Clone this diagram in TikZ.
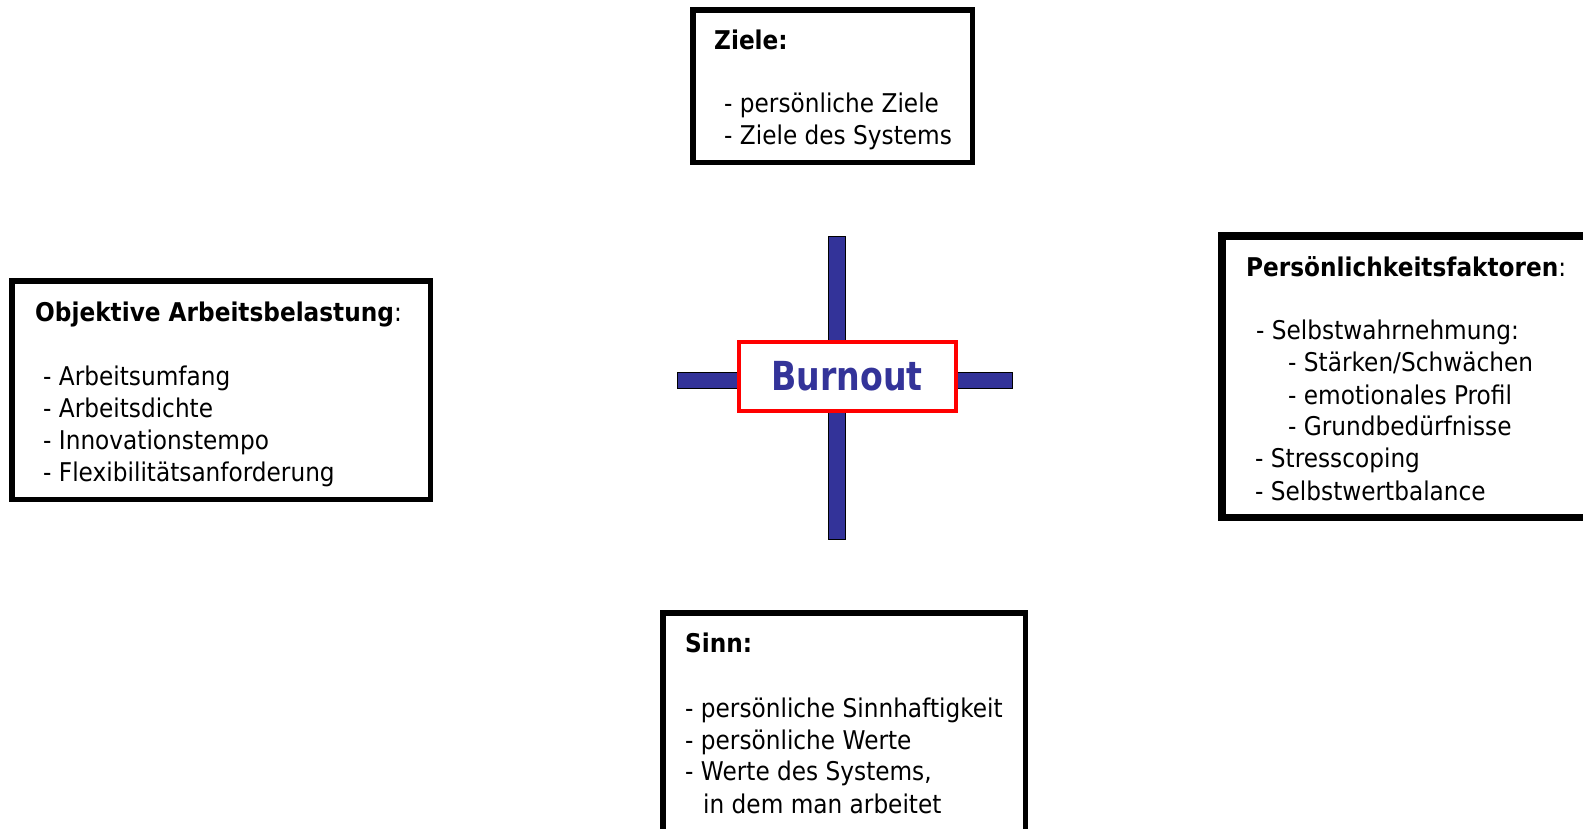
\documentclass[tikz,border=0pt]{standalone}
\usepackage{fontspec}
\setmainfont{DejaVu Sans}[FakeStretch=0.9]
\newfontfamily\burnfont{DejaVu Sans}[FakeStretch=0.83]
\definecolor{navy}{HTML}{333399}
\definecolor{burnred}{HTML}{FF0000}
\begin{document}
\begin{tikzpicture}[x=1pt,y=-1pt,
  frame/.style={draw=black,line width=5.5pt,fill=white,inner sep=0pt,outer sep=0pt},
  bar/.style={draw=black,line width=1pt,fill=navy},
  txt/.style={anchor=base west,inner sep=0pt,font=\fontsize{25.8}{32}\selectfont},
  head/.style={txt,font=\fontsize{25.8}{32}\selectfont\bfseries}]
\useasboundingbox (0,0) rectangle (1583,828);
% boxes
\node[frame,minimum width=279.5,minimum height=152.5] (zielebox) at (832.5,86) {};
\node[frame,minimum width=418.5,minimum height=218.5] (objbox) at (221,390) {};
\node[frame,line width=7.5pt,minimum width=380,minimum height=281.5] (persbox) at (1412,376.5) {};
\node[frame,minimum width=362.5,minimum height=287] (sinnbox) at (844,756.4) {};
% cross
\path (828,236) coordinate (vt) (845,539) coordinate (vb);
\path (677,372) coordinate (hl) (1012,388) coordinate (hr);
\draw[bar] (vt) rectangle (vb);
\draw[bar] (hl) rectangle (hr);
\node[draw=burnred,line width=4pt,fill=white,minimum width=217,minimum height=69,inner sep=0pt,
  text=navy,font=\fontsize{40}{48}\selectfont\burnfont\bfseries] (burnout) at (847,376) {Burnout};
% Ziele
\node[head] (z0) at (714,49) {Ziele:};
\node[txt] (z1) at (724,112) {- persönliche Ziele};
\node[txt] (z2) at (724,144) {- Ziele des Systems};
% Objektive Arbeitsbelastung
\node[txt] (o0) at (35,321) {\textbf{Objektive Arbeitsbelastung}:};
\node[txt] (o1) at (43,385) {- Arbeitsumfang};
\node[txt] (o2) at (43,417) {- Arbeitsdichte};
\node[txt] (o3) at (43,449) {- Innovationstempo};
\node[txt] (o4) at (43,481) {- Flexibilitätsanforderung};
% Persoenlichkeitsfaktoren
\node[txt] (p0) at (1246,276) {\textbf{Persönlichkeitsfaktoren}:};
\node[txt] (p1) at (1256,339) {- Selbstwahrnehmung:};
\node[txt] (p2) at (1288,371) {- Stärken/Schwächen};
\node[txt] (p3) at (1288,404) {- emotionales Profil};
\node[txt] (p4) at (1288,435) {- Grundbedürfnisse};
\node[txt] (p5) at (1255,467) {- Stresscoping};
\node[txt] (p6) at (1255,500) {- Selbstwertbalance};
% Sinn
\node[head] (s0) at (685,652) {Sinn:};
\node[txt] (s1) at (685,717) {- persönliche Sinnhaftigkeit};
\node[txt] (s2) at (685,749) {- persönliche Werte};
\node[txt] (s3) at (685,780) {- Werte des Systems,};
\node[txt] (s4) at (703,813) {in dem man arbeitet};
\end{tikzpicture}
\end{document}
